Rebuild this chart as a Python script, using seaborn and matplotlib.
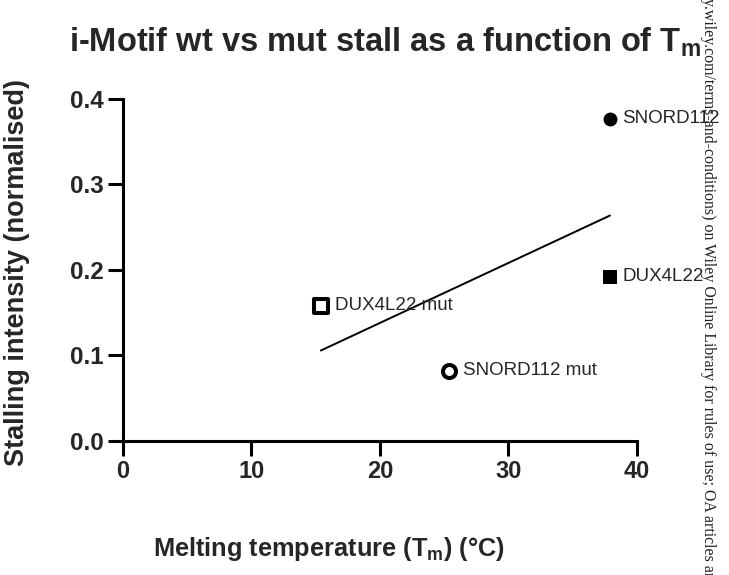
import matplotlib
matplotlib.use('Agg')
import numpy as np
import pandas as pd
import seaborn as sns
import matplotlib.pyplot as plt

# values
samples = ['SNORD112', 'DUX4L22', 'DUX4L22 mut', 'SNORD112 mut']
melting_temp = [37.9, 37.9, 15.4, 25.4]
stall_intensity = [0.377, 0.192, 0.158, 0.082]
marker_shapes = ['o', 's', 's', 'o']
filled = [True, True, False, False]
label_offsets = [9, 9, 10, 10]

x_ticks = [0, 10, 20, 30, 40]
y_ticks = [0.0, 0.1, 0.2, 0.3, 0.4]

watermark = 'y.wiley.com/terms-and-conditions) on Wiley Online Library for rules of use; OA articles ar'

sns.set_style('ticks')
plt.rcParams['font.family'] = ['Liberation Sans', 'DejaVu Sans']
plt.rcParams['mathtext.fontset'] = 'custom'
plt.rcParams['mathtext.rm'] = 'Liberation Sans'
plt.rcParams['mathtext.bf'] = 'Liberation Sans:bold'

frame = pd.DataFrame({'sample': samples, 'tm': melting_temp, 'stall': stall_intensity})

fig = plt.figure(figsize=(7.29, 5.75), dpi=100)
ax = fig.add_axes([0.1687, 0.233, 0.705, 0.595])

sns.regplot(data=frame, x='tm', y='stall', ci=None, scatter=False, truncate=True,
            line_kws={'color': 'black', 'lw': 1.4}, ax=ax)

for i, row in frame.iterrows():
    if filled[i]:
        sns.scatterplot(x=[row['tm']], y=[row['stall']], marker=marker_shapes[i], s=100,
                        color='black', edgecolor='black', linewidth=0, ax=ax, clip_on=False)
    else:
        sns.scatterplot(x=[row['tm']], y=[row['stall']], marker=marker_shapes[i], s=88,
                        color='white', edgecolor='black', linewidth=2.9, ax=ax, clip_on=False)
    ax.annotate(row['sample'], (row['tm'], row['stall']), xytext=(label_offsets[i], 0),
                textcoords='offset points', va='center', ha='left', fontsize=13.5)

ax.set_xlim(0, 40)
ax.set_ylim(0, 0.4)
ax.set_xticks(x_ticks)
ax.set_yticks(y_ticks)
ax.set_xticklabels([str(t) for t in x_ticks], fontweight='bold', fontsize=17)
ax.set_yticklabels([f'{t:.1f}' for t in y_ticks], fontweight='bold', fontsize=17.5)
ax.tick_params(length=11, width=2.2, pad=3, color='black')
sns.despine(ax=ax)
for side in ['left', 'bottom']:
    ax.spines[side].set_linewidth(2.2)
    ax.spines[side].set_color('black')

ax.set_ylabel('Stalling intensity (normalised)', fontweight='bold', fontsize=19.5)
ax.yaxis.set_label_coords(-0.181, 0.494)
ax.set_xlabel(r'Melting temperature ($\mathbf{T_m}$) (°C)', fontweight='bold', fontsize=18.3)
ax.xaxis.set_label_coords(0.40, -0.275)

ax.set_title(r'i-Motif wt vs mut stall as a function of $\mathbf{T_m}$', fontweight='bold',
             fontsize=23.5, x=0.51, y=1.115)

fig.text(0.971, 1.003, watermark, rotation=270, ha='center', va='top',
         family='Liberation Serif', fontsize=11.4, color='#222222')

fig.savefig('out.png', dpi=100)
